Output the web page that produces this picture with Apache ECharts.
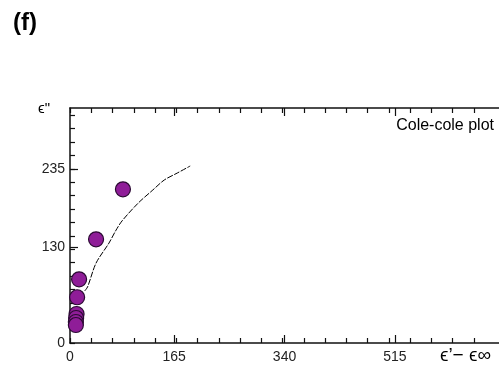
<!DOCTYPE html>
<html>
<head>
<meta charset="utf-8">
<script src="https://cdn.jsdelivr.net/npm/echarts@6/dist/echarts.min.js"></script>
<style>
html,body{margin:0;padding:0;background:#fff;}
#chart{width:499px;height:365px;}
</style>
</head>
<body>
<div id="chart"></div>
<script>
// ---- data ----
const xTickLabels = [0, 165, 340, 515];
const yTickLabels = [0, 130, 235];
const pointX = [83.9, 41.3, 14.4, 11.3, 10.4, 9.7, 9.3, 9.3];
const pointY = [207.7, 140.1, 86.1, 61.8, 39.2, 33.8, 28.4, 24.3];
const curveX = [23.2, 27.8, 41.3, 61.8, 72.2, 82.4, 108.2, 131.3, 149.4, 170.0, 190.5];
const curveY = [70.3, 75.7, 108.0, 135.1, 151.4, 164.9, 189.2, 206.8, 220.3, 229.7, 239.2];

const xMax = 666, yMax = 317.6;
const xMinorStep = 33.7, yMinorStep = 18.1;
function steps(step, max) { const a = []; for (let v = 0; v <= max - 1; v += step) a.push(+v.toFixed(2)); return a; }
const xMinor = steps(xMinorStep, xMax);
const yMinor = steps(yMinorStep, yMax);

const font = '"Liberation Sans", Arial, sans-serif';
const lineCol = '#111';

function xAx(pos, ticks, len, showLine, labels) {
  return {
    type: 'value', position: pos, min: 0, max: xMax, gridIndex: 0,
    splitLine: { show: false },
    axisLine: { show: showLine, onZero: false, lineStyle: { color: lineCol, width: 1.5 } },
    axisTick: { show: true, inside: true, length: len, customValues: ticks, lineStyle: { color: lineCol, width: 1.2 } },
    axisLabel: labels ? { show: true, customValues: labels, margin: 7, fontSize: 14, color: '#222', fontFamily: font } : { show: false }
  };
}
function yAx(pos, ticks, len, showLine, labels) {
  return {
    type: 'value', position: pos, min: 0, max: yMax, gridIndex: 0,
    splitLine: { show: false },
    axisLine: { show: showLine, onZero: false, lineStyle: { color: lineCol, width: 1.5 } },
    axisTick: { show: true, inside: true, length: len, customValues: ticks, lineStyle: { color: lineCol, width: 1.2 } },
    axisLabel: labels ? { show: true, customValues: labels, margin: 5, fontSize: 14, color: '#222', fontFamily: font } : { show: false }
  };
}

const chart = echarts.init(document.getElementById('chart'), null, { renderer: 'canvas' });
chart.setOption({
  animation: false,
  backgroundColor: '#fff',
  grid: { left: 70, top: 108, width: 440, height: 235, containLabel: false },
  xAxis: [
    xAx('bottom', xMinor, 5, true, xTickLabels),
    xAx('bottom', xTickLabels.slice(1), 8, false, null),
    xAx('top', xMinor, 5, true, null),
    xAx('top', xTickLabels.slice(1), 8, false, null)
  ].map(a => Object.assign(a, { max: xMax * 440 / 431 })),
  yAxis: [
    yAx('left', yMinor, 5, true, yTickLabels),
    yAx('left', yTickLabels.slice(1), 8, false, null)
  ],
  series: [
    {
      type: 'line', xAxisIndex: 0, yAxisIndex: 0,
      data: curveX.map((x, i) => [x, curveY[i]]),
      smooth: 0.3, symbol: 'none',
      lineStyle: { color: '#000', width: 1, type: [6, 1.5] }
    },
    {
      type: 'scatter', xAxisIndex: 0, yAxisIndex: 0,
      data: pointX.map((x, i) => [x, pointY[i]]),
      symbol: 'circle', symbolSize: 15,
      itemStyle: { color: '#8f1d98', borderColor: '#2b0a33', borderWidth: 1.2, opacity: 1 }
    }
  ],
  graphic: [
    { type: 'text', left: 13, top: 11, style: { text: '(f)', font: 'bold 24px ' + font, fill: '#000' } },
    { type: 'text', left: 38, top: 101, style: { text: 'ϵ"', font: '15px ' + font, fill: '#000' } },
    { type: 'text', right: 5, top: 118, style: { text: 'Cole-cole plot', font: '16px ' + font, fill: '#000' } },
    { type: 'text', left: 440, top: 346, style: { text: 'ϵ’− ϵ∞', font: '19px ' + font, fill: '#000' } }
  ]
});
</script>
</body>
</html>
